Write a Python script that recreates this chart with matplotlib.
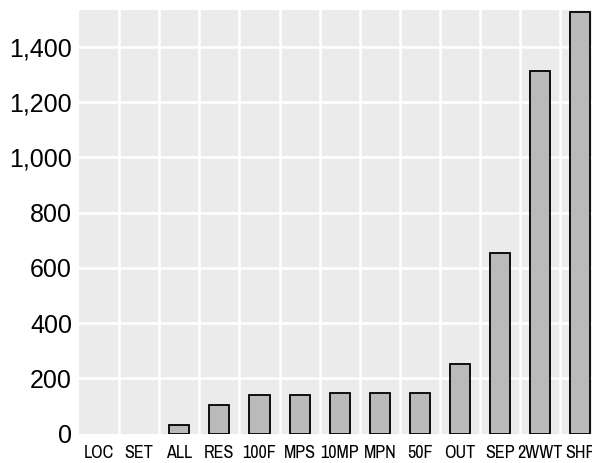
import numpy as np
import matplotlib.pyplot as plt
from matplotlib.ticker import FuncFormatter

# data
categories = ['LOC', 'SET', 'ALL', 'RES', '100F', 'MPS', '10MP', 'MPN', '50F', 'OUT', 'SEP', '2WWT', 'SHP']
values = [0, 0, 30, 103, 140, 140, 148, 148, 145, 250, 652, 1312, 1527]
yticks = [0, 200, 400, 600, 800, 1000, 1200, 1400]

fig = plt.figure(figsize=(5.92, 4.63), dpi=100)
ax = fig.add_axes([0.1334, 0.0637, 0.8666, 0.9145])
ax.set_facecolor('#ebebeb')

x = np.arange(len(categories))
edges = ['black' if v > 0 else 'none' for v in values]
ax.bar(x, values, width=0.5, color='#bababa', edgecolor=edges, linewidth=1.3, zorder=3)

ax.set_xlim(-0.5, 12.29)
ax.set_ylim(0, 1533)

# grid: white lines between categories and at each y tick
for b in np.arange(0.5, len(categories) - 0.5, 1):
    ax.axvline(b, color='white', linewidth=1.8, zorder=1)
for t in yticks[1:]:
    ax.axhline(t, color='white', linewidth=1.8, zorder=1)

ax.set_yticks(yticks)
ax.yaxis.set_major_formatter(FuncFormatter(lambda v, p: f'{int(v):,}'))
ax.set_xticks(x)
ax.set_xticklabels(categories, family=['Archivo Narrow', 'Roboto Condensed'], fontsize=13)
for lab in ax.get_yticklabels():
    lab.set_family('Liberation Sans')
    lab.set_fontsize(18)
ax.tick_params(axis='y', length=0, pad=5)
ax.tick_params(axis='x', length=0, pad=8)
for s in ax.spines.values():
    s.set_visible(False)

fig.savefig('out.png', dpi=100)
